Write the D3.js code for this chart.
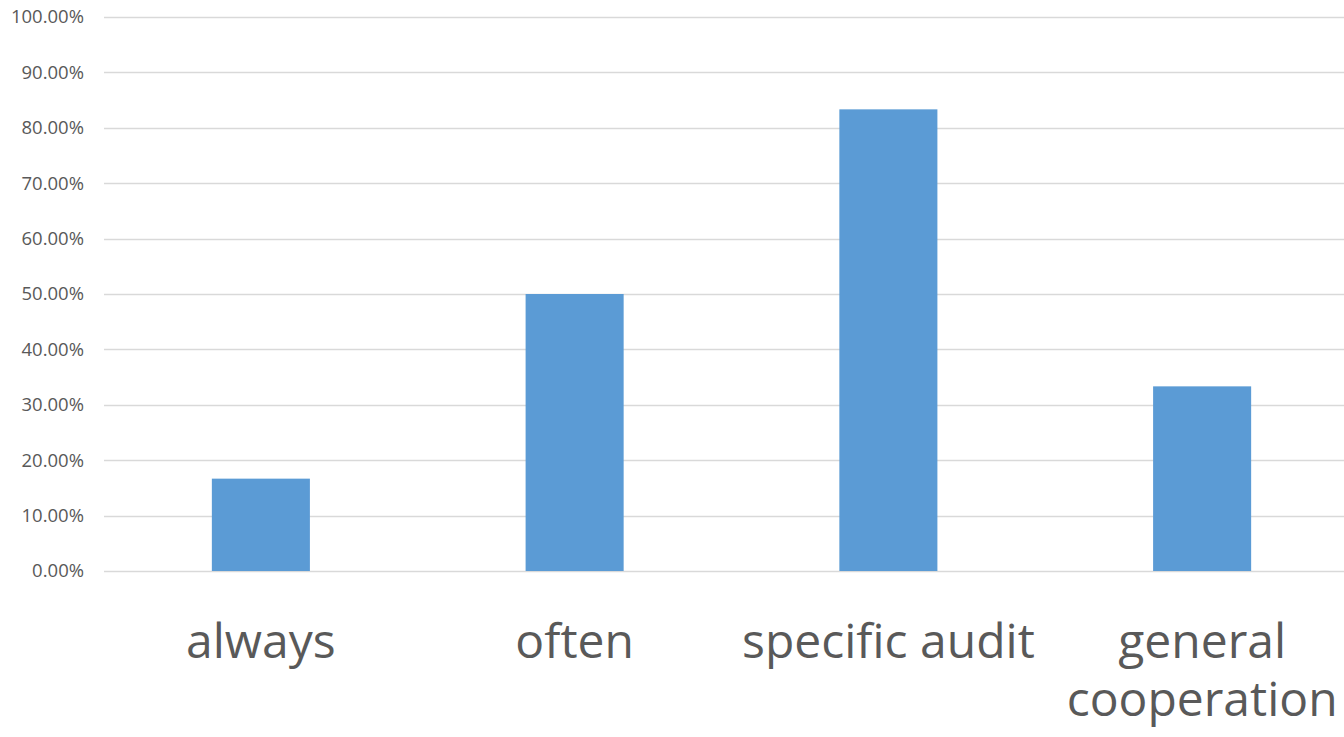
<!DOCTYPE html>
<html>
<head>
<meta charset="utf-8">
<script src="https://cdn.jsdelivr.net/npm/d3@7"></script>
<style>
    body { margin: 0; background: #fff; }
    svg { display: block; }
</style>
</head>
<body>
<div id="chart"></div>
<script>
const categories = ['always', 'often', 'specific audit', 'general cooperation'];
const values = [0.1667, 0.5, 0.8333, 0.3333];
const yTicks = [0, 0.1, 0.2, 0.3, 0.4, 0.5, 0.6, 0.7, 0.8, 0.9, 1.0];

const width = 1344, height = 737;
const margin = { top: 17, left: 104, bottom: 166 };
const plotRight = 1359; // plot area runs slightly past the window edge
const gap = 0.6875;

const svg = d3.select('#chart')
    .append('svg')
    .attr('width', width)
    .attr('height', height);

const x = d3.scaleBand()
    .domain(categories)
    .range([margin.left, plotRight])
    .paddingInner(gap)
    .paddingOuter(gap / 2);

const y = d3.scaleLinear()
    .domain([0, 1])
    .range([height - margin.bottom, margin.top]);

// gridlines
svg.append('g')
    .selectAll('line')
    .data(yTicks)
    .enter()
    .append('line')
    .attr('x1', margin.left)
    .attr('x2', width)
    .attr('y1', d => Math.round(y(d)) + 0.5)
    .attr('y2', d => Math.round(y(d)) + 0.5)
    .attr('stroke', '#d9d9d9')
    .attr('stroke-width', 1.3);

// y axis labels
svg.append('g')
    .selectAll('text')
    .data(yTicks)
    .enter()
    .append('text')
    .attr('x', 84)
    .attr('y', d => y(d))
    .attr('dy', '0.35em')
    .attr('text-anchor', 'end')
    .attr('font-family', 'Open Sans, sans-serif')
    .attr('font-size', 18.5)
    .attr('fill', '#595959')
    .text(d => d3.format('.2%')(d));

// bars
svg.append('g')
    .selectAll('rect')
    .data(values)
    .enter()
    .append('rect')
    .attr('x', (d, i) => x(categories[i]))
    .attr('y', d => y(d))
    .attr('width', x.bandwidth())
    .attr('height', d => y(0) - y(d))
    .attr('fill', '#5b9bd5');

// category labels, wrapped onto lines when they are too long
const labelLines = {
    'always': ['always'],
    'often': ['often'],
    'specific audit': ['specific audit'],
    'general cooperation': ['general', 'cooperation']
};

svg.append('g')
    .selectAll('text')
    .data(categories)
    .enter()
    .append('text')
    .attr('y', 658)
    .attr('text-anchor', 'middle')
    .attr('font-family', 'Open Sans, sans-serif')
    .attr('font-size', 48)
    .attr('fill', '#595959')
    .each(function(d) {
        const cx = x(d) + x.bandwidth() / 2;
        d3.select(this)
            .selectAll('tspan')
            .data(labelLines[d])
            .enter()
            .append('tspan')
            .attr('x', cx)
            .attr('dy', (t, i) => i === 0 ? 0 : 58)
            .text(t => t);
    });
</script>
</body>
</html>
